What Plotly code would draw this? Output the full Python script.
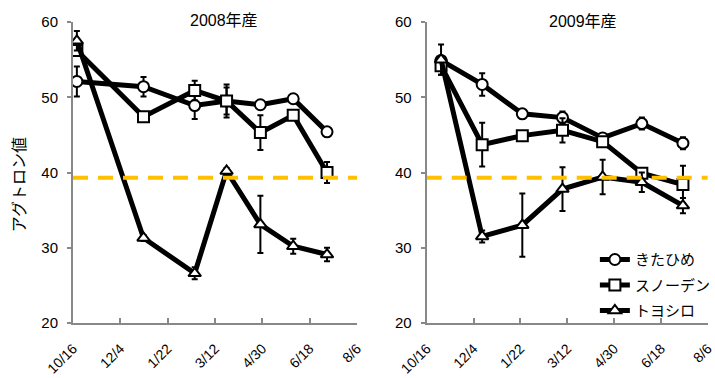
import plotly.graph_objects as go

# ---------------- data ----------------
series_names = ["きたひめ", "スノーデン", "トヨシロ"]
marker_symbols = ["circle", "square", "triangle-up"]

dates_2008 = ["2008-10-20", "2008-12-28", "2009-02-19", "2009-03-24", "2009-04-28", "2009-06-01", "2009-07-06"]
kitahime_2008 = [52.1, 51.4, 48.9, 49.5, 49.0, 49.8, 45.4]
kitahime_2008_err = [2.0, 1.3, 1.8, 2.2, 0.4, 0.4, 0.4]
snowden_2008 = [56.2, 47.4, 50.9, 49.5, 45.3, 47.6, 40.0]
snowden_2008_err = [0.5, 0.4, 1.3, 1.8, 2.3, 0.4, 1.4]
toyoshiro_2008 = [57.5, 31.3, 26.6, 40.2, 33.1, 30.2, 29.1]
toyoshiro_2008_err = [1.3, 0.4, 0.8, 0.4, 3.8, 1.0, 0.9]

dates_2009 = ["2009-10-31", "2009-12-13", "2010-01-24", "2010-03-07", "2010-04-18", "2010-05-29", "2010-07-11"]
kitahime_2009 = [54.9, 51.7, 47.8, 47.3, 44.6, 46.5, 43.9]
kitahime_2009_err = [0.5, 1.5, 0.5, 0.8, 0.5, 0.8, 0.8]
snowden_2009 = [54.2, 43.7, 44.9, 45.6, 44.1, 39.9, 38.4]
snowden_2009_err = [1.2, 2.9, 0.6, 1.6, 0.5, 0.5, 2.5]
toyoshiro_2009 = [55.0, 31.5, 33.0, 37.8, 39.4, 38.7, 35.6]
toyoshiro_2009_err = [2.0, 0.8, 4.2, 2.9, 2.3, 1.3, 1.0]

threshold = 39.3

tick_labels = ["10/16", "12/4", "1/22", "3/12", "4/30", "6/18", "8/6"]
ticks_2008 = ["2008-10-16", "2008-12-04", "2009-01-22", "2009-03-12", "2009-04-30", "2009-06-18", "2009-08-06"]
ticks_2009 = ["2009-10-16", "2009-12-04", "2010-01-22", "2010-03-12", "2010-04-30", "2010-06-18", "2010-08-06"]

panel_titles = ["2008年産", "2009年産"]
y_title = "アグトロン値"

# ---------------- figure ----------------
FONT = "Liberation Sans, Arial, Noto Sans CJK JP, sans-serif"
fig = go.Figure()

panels = [
    ("x", "y", dates_2008,
     [kitahime_2008, snowden_2008, toyoshiro_2008],
     [kitahime_2008_err, snowden_2008_err, toyoshiro_2008_err], False),
    ("x2", "y2", dates_2009,
     [kitahime_2009, snowden_2009, toyoshiro_2009],
     [kitahime_2009_err, snowden_2009_err, toyoshiro_2009_err], True),
]

for xa, ya, dates, vals, errs, show in panels:
    for name, sym, v, e in zip(series_names, marker_symbols, vals, errs):
        fig.add_trace(go.Scatter(
            x=dates, y=v, name=name, xaxis=xa, yaxis=ya,
            mode="lines+markers",
            line=dict(color="black", width=5),
            marker=dict(symbol=sym, size=11, color="white",
                        line=dict(color="black", width=2)),
            error_y=dict(type="data", array=e, visible=True,
                         color="black", thickness=2, width=3),
            showlegend=show, legendgroup=name,
        ))

# threshold dashed lines
for xa, ya, ticks in [("x", "y", ticks_2008), ("x2", "y2", ticks_2009)]:
    fig.add_shape(type="line", xref=xa, yref=ya,
                  x0=ticks[0], x1=ticks[-1], y0=threshold, y1=threshold,
                  line=dict(color="#FFC000", width=4, dash="15px,10px"),
                  layer="above")

line_common = dict(showline=True, linecolor="#888888", linewidth=2,
                   showgrid=False, zeroline=False, mirror=False, automargin=False,
                   ticklabeloverflow="allow")
xtickfont = dict(family=FONT, size=14, color="black")
ytickfont = dict(family=FONT, size=15, color="black")

fig.update_layout(
    width=715, height=378,
    margin=dict(l=73, r=4, t=22, b=55, autoexpand=False),
    plot_bgcolor="white", paper_bgcolor="white",
    font=dict(family=FONT, color="black"),
    xaxis=dict(domain=[0, 0.4451], type="date", range=[ticks_2008[0], ticks_2008[-1]],
               tickvals=ticks_2008, ticktext=tick_labels, tickangle=-45,
               ticks="inside", ticklen=5, tickwidth=2, tickcolor="#888888",
               ticklabelstandoff=10, anchor="y", tickfont=xtickfont, **line_common),
    xaxis2=dict(domain=[0.5544, 0.995], type="date", range=[ticks_2009[0], ticks_2009[-1]],
                tickvals=ticks_2009, ticktext=tick_labels, tickangle=-45,
                ticks="inside", ticklen=5, tickwidth=2, tickcolor="#888888",
                ticklabelstandoff=10, anchor="y2", tickfont=xtickfont, **line_common),
    yaxis=dict(range=[20, 60], dtick=10, ticks="outside", ticklen=4, tickwidth=2,
               tickcolor="#888888", anchor="x", ticklabelstandoff=6,
               tickfont=ytickfont, **line_common),
    yaxis2=dict(range=[20, 60], dtick=10, ticks="outside", ticklen=4, tickwidth=2,
                tickcolor="#888888", anchor="x2", ticklabelstandoff=6,
                tickfont=ytickfont, **line_common),
    legend=dict(x=0.818, y=0.265, xanchor="left", yanchor="top",
                bgcolor="rgba(0,0,0,0)", font=dict(family=FONT, size=15),
                tracegroupgap=3, traceorder="grouped"),
    showlegend=True,
)

# panel titles
fig.add_annotation(text=panel_titles[0], xref="paper", yref="paper",
                   x=0.2367, y=1.0066, xanchor="center", yanchor="middle",
                   showarrow=False, font=dict(family=FONT, size=16, color="black"))
fig.add_annotation(text=panel_titles[1], xref="paper", yref="paper",
                   x=0.7986, y=1.003, xanchor="center", yanchor="middle",
                   showarrow=False, font=dict(family=FONT, size=16, color="black"))
# y-axis title
fig.add_annotation(text=y_title, xref="paper", yref="paper",
                   x=-0.0846, y=0.458, xanchor="center", yanchor="middle",
                   textangle=-90, showarrow=False,
                   font=dict(family=FONT, size=16, color="black"))

fig.write_html("out.html", config={"displayModeBar": False},
               post_script="document.body.style.margin='0';")
